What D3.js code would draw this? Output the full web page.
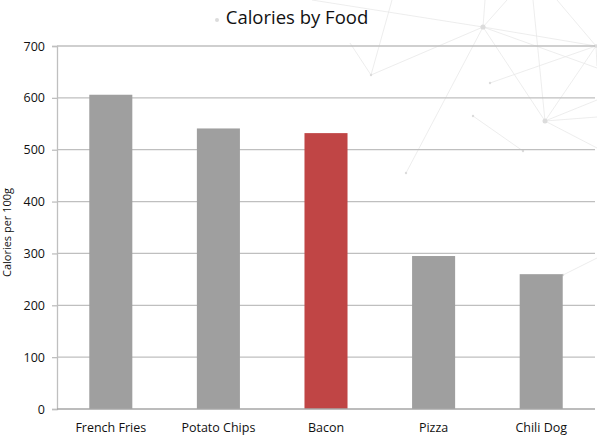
<!DOCTYPE html>
<html><head><meta charset="utf-8">
<script src="https://cdn.jsdelivr.net/npm/d3@7"></script>
<style>body{margin:0;background:#fff}svg{display:block}</style>
</head><body>
<svg id="c" width="597" height="446"></svg>
<script>
const categories = ["French Fries","Potato Chips","Bacon","Pizza","Chili Dog"];
const calories = [606, 541, 532, 295, 260];
const highlight = ["Bacon"];
const yTicks = [0,100,200,300,400,500,600,700];

// faint decorative network in the background: [x, y, radius]
const bgNodes = [
  [217,20,2],[483,27,2.6],[371,75,1.2],[490,83,1.2],[545,121,2.5],[596,46,1.8],
  [473,116,1.2],[523,151,1.2],[406,173,1.2],[563,275,1.2],
  [312,0,0],[350,43,0],[392,0,0],[485,0,0],[507,0,0],[533,0,0],[557,0,0],
  [597,68,0],[597,100,0],[597,117,0],[597,148,0],[597,258,0],[597,66,0]
];
const bgLinks = [[1,8],[2,1],[2,11],[2,12],[1,5],[1,13],[1,14],[10,1],[1,4],[4,5],
  [4,18],[4,19],[4,20],[3,5],[5,22],[15,4],[16,5],[6,7],[9,21],[1,17]];

const svg = d3.select("#c");
const W = 597, H = 446;
const m = {l:57, r:2, t:46, b:37};

const bg = svg.append("g");
bgLinks.forEach(([a,b])=>{
  bg.append("line").attr("x1",bgNodes[a][0]).attr("y1",bgNodes[a][1])
    .attr("x2",bgNodes[b][0]).attr("y2",bgNodes[b][1])
    .attr("stroke","#e8e8e8").attr("stroke-width",0.8);
});
bgNodes.filter(n=>n[2]>0).forEach(n=>bg.append("circle").attr("cx",n[0]).attr("cy",n[1]).attr("r",n[2]).attr("fill","#dcdcdc"));

const x = d3.scaleBand().domain(categories).range([m.l, W-m.r]).paddingInner(0.6).paddingOuter(0.3);
const y = d3.scaleLinear().domain([0,700]).range([H-m.b, m.t]);

// gridlines
svg.append("g").selectAll("line").data(yTicks.filter(d=>d>0)).join("line")
  .attr("x1",m.l).attr("x2",W-m.r).attr("y1",d=>y(d)).attr("y2",d=>y(d))
  .attr("stroke","#bfbfbf").attr("stroke-width",1.3);

// y axis
const ya = svg.append("g").attr("transform",`translate(${m.l},0)`)
  .call(d3.axisLeft(y).tickValues(yTicks).tickSize(5).tickPadding(7));
ya.select(".domain").attr("stroke","#bfbfbf").attr("stroke-width",1.3);
ya.selectAll(".tick line").attr("stroke","#bfbfbf").attr("stroke-width",1.3);
ya.selectAll(".tick text").attr("font-family","Open Sans, sans-serif").attr("font-size",12.5).attr("fill","#111");

// bars
svg.append("g").selectAll("rect").data(categories).join("rect")
  .attr("x",d=>x(d)).attr("width",x.bandwidth())
  .attr("y",(d,i)=>y(calories[i])).attr("height",(d,i)=>y(0)-y(calories[i]))
  .attr("fill",d=>highlight.includes(d)?"#c04545":"#9f9f9f");

// x axis
const xa = svg.append("g").attr("transform",`translate(0,${y(0)})`)
  .call(d3.axisBottom(x).tickSize(0).tickPadding(14));
xa.select(".domain").attr("stroke","#a6a6a6").attr("stroke-width",1.3).attr("d",`M${m.l},0H${W-m.r}`);
xa.selectAll(".tick text").attr("font-family","Open Sans, sans-serif").attr("font-size",12.5).attr("fill","#111");

// title
svg.append("text").attr("x",297).attr("y",24).attr("text-anchor","middle")
  .attr("font-family","Open Sans, sans-serif").attr("font-size",18.5).attr("fill","#111")
  .text("Calories by Food");

// y label
svg.append("text").attr("transform",`translate(11,${(y(0)+y(700))/2+5}) rotate(-90)`)
  .attr("text-anchor","middle").attr("font-family","Open Sans, sans-serif").attr("font-size",11).attr("fill","#111")
  .text("Calories per 100g");
</script>
</body></html>
